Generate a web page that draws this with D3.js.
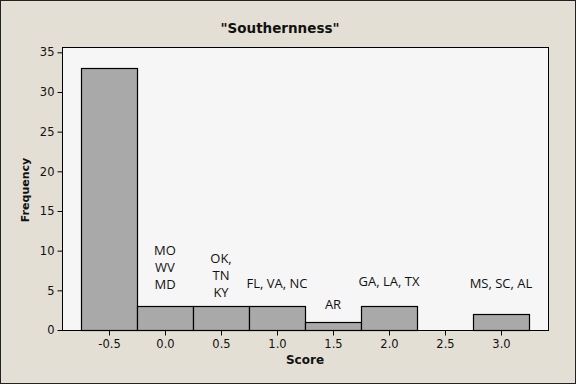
<!DOCTYPE html>
<html>
<head>
<meta charset="utf-8">
<script src="https://cdn.jsdelivr.net/npm/d3@7"></script>
<style>
  body { margin: 0; padding: 0; background: #fff; }
  svg { display: block; }
</style>
</head>
<body>
<script>
// histogram values
let binCenters = [-0.5, 0.0, 0.5, 1.0, 1.5, 2.0, 2.5, 3.0];
let frequencies = [33, 3, 3, 3, 1, 3, 0, 2];
let xTicks = [-0.5, 0.0, 0.5, 1.0, 1.5, 2.0, 2.5, 3.0];
let yTicks = [0, 5, 10, 15, 20, 25, 30, 35];

// state annotations: bin, lines of text, baseline height in data units
let noteBins = [0.0, 0.5, 1.0, 1.5, 2.0, 3.0];
let noteLines = [["MO", "WV", "MD"], ["OK,", "TN", "KY"], ["FL, VA, NC"], ["AR"], ["GA, LA, TX"], ["MS, SC, AL"]];
let noteLevels = [9.5, 8.4, 5.35, 2.7, 5.6, 5.35];

let W = 576, H = 384;
let box = {left: 62, right: 548, top: 47, bottom: 330};
let svg, x, y;

setupSvg();
setupScales();
drawFrame();
drawBars();
drawAxes();
drawNotes();
drawTitles();

function setupSvg() {
  svg = d3.select("body").append("svg")
    .attr("width", W)
    .attr("height", H);

  svg.append("rect")
    .attr("x", 0.5).attr("y", 0.5)
    .attr("width", W - 1).attr("height", H - 1)
    .attr("fill", "#e4dfd4")
    .attr("stroke", "#222");
}

function setupScales() {
  // -0.5 sits at 109px, 3.0 at 501px
  x = d3.scaleLinear()
    .domain([-0.5, 3.0])
    .range([109, 501]);
  y = d3.scaleLinear()
    .domain([0, 35])
    .range([box.bottom, 52.3]);
}

function drawFrame() {
  svg.append("rect")
    .attr("x", box.left + 0.5)
    .attr("y", box.top + 0.5)
    .attr("width", box.right - box.left)
    .attr("height", box.bottom - box.top)
    .attr("fill", "#f6f6f6")
    .attr("stroke", "#000");
}

function drawBars() {
  let halfBin = 0.25;
  svg.selectAll(".bar")
    .data(binCenters.map((c, i) => ({c: c, f: frequencies[i]})).filter(d => d.f > 0))
    .enter()
    .append("rect")
    .attr("class", "bar")
    .attr("x", d => Math.round(x(d.c - halfBin)) + 0.5)
    .attr("y", d => Math.round(y(d.f)) + 0.5)
    .attr("width", d => Math.round(x(d.c + halfBin)) - Math.round(x(d.c - halfBin)))
    .attr("height", d => Math.round(y(0)) - Math.round(y(d.f)))
    .attr("fill", "#a9a9a9")
    .attr("stroke", "#000")
    .attr("stroke-width", 1.2);
}

function drawAxes() {
  let fmt = d => d.toFixed(1);
  let xAxis = svg.append("g")
    .attr("transform", `translate(0, ${box.bottom + 0.5})`)
    .call(d3.axisBottom(x).tickValues(xTicks).tickFormat(fmt).tickSizeOuter(0).tickSize(5).tickPadding(4));
  xAxis.select(".domain").remove();

  let yAxis = svg.append("g")
    .attr("transform", `translate(${box.left + 0.5}, 0)`)
    .call(d3.axisLeft(y).tickValues(yTicks).tickSizeOuter(0).tickSize(5).tickPadding(3));
  yAxis.select(".domain").remove();

  svg.selectAll(".tick text")
    .attr("font-family", "'DejaVu Sans', sans-serif")
    .attr("font-size", 11.5)
    .attr("fill", "#111");
  svg.selectAll(".tick line").attr("stroke", "#000");
}

function drawNotes() {
  let lineGap = 17;
  noteBins.forEach(function(b, i) {
    let lines = noteLines[i];
    let t = svg.append("text")
      .attr("x", x(b))
      .attr("y", y(noteLevels[i]))
      .attr("text-anchor", "middle")
      .attr("font-family", "'Open Sans', sans-serif")
      .attr("font-size", 13)
      .attr("fill", "#111");
    lines.forEach(function(s, j) {
      t.append("tspan")
        .attr("x", x(b))
        .attr("dy", j === 0 ? 0 : lineGap)
        .text(s);
    });
  });
}

function drawTitles() {
  svg.append("text")
    .attr("x", 280)
    .attr("y", 33)
    .attr("text-anchor", "middle")
    .attr("font-family", "'DejaVu Sans', sans-serif")
    .attr("font-weight", "bold")
    .attr("font-size", 13.5)
    .attr("fill", "#111")
    .text("\"Southernness\"");

  svg.append("text")
    .attr("x", 305)
    .attr("y", 364)
    .attr("text-anchor", "middle")
    .attr("font-family", "'DejaVu Sans', sans-serif")
    .attr("font-weight", "bold")
    .attr("font-size", 12)
    .attr("fill", "#111")
    .text("Score");

  svg.append("text")
    .attr("transform", "translate(29, 190) rotate(-90)")
    .attr("text-anchor", "middle")
    .attr("font-family", "'DejaVu Sans', sans-serif")
    .attr("font-weight", "bold")
    .attr("font-size", 11)
    .attr("fill", "#111")
    .text("Frequency");
}
</script>
</body>
</html>
